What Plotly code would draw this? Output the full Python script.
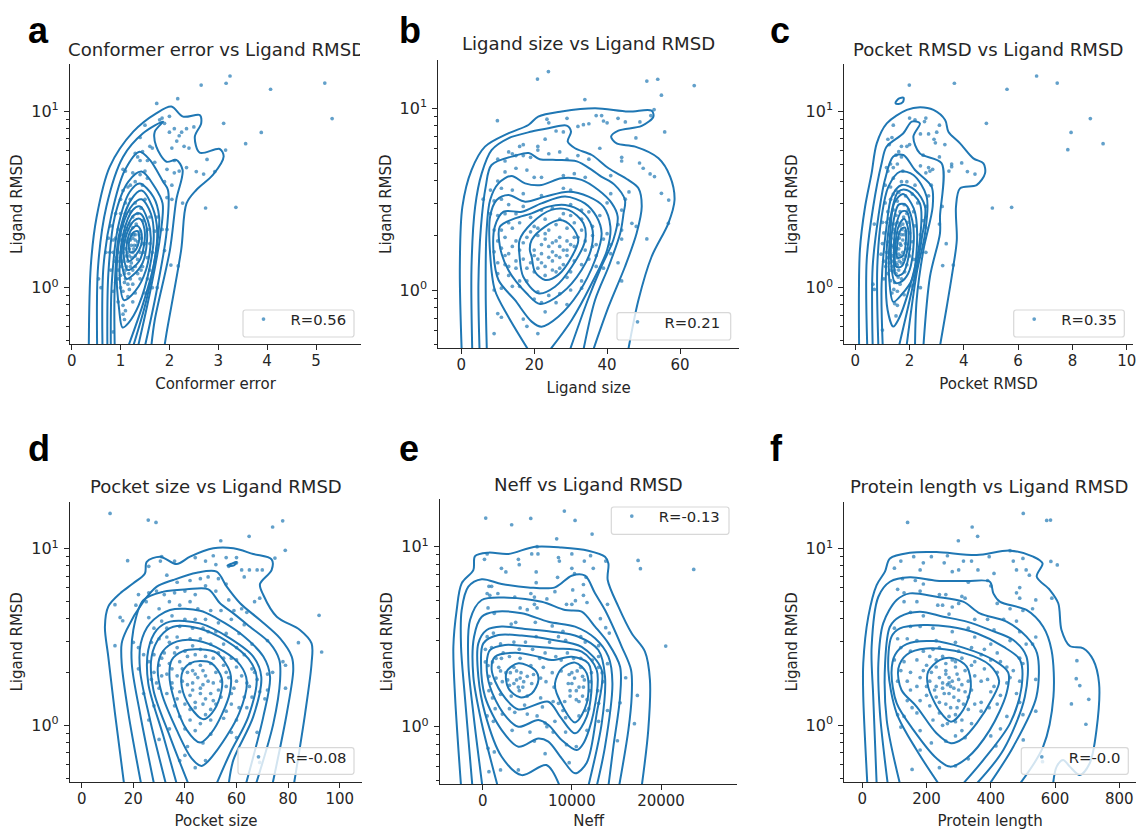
import plotly.graph_objects as go

W, H = 1136, 830
BLUE = "#1f77b4"
INK = "#262626"

# ---------- values: (x value, log10 of Ligand RMSD) ----------
A_POINTS = [(3.24,1.198),(2.65,1.147),(3.16,1.157),(5.18,1.158),(4.07,1.123),(2.17,1.07),(1.74,1.043),(5.33,.957),(3.11,.93),(3.88,.879),(3.56,.815),(3.15,.779),(2.77,.726),(2.55,.657),(2.70,.643),(2.93,.657),(2.27,.479),(2.74,.451),(3.36,.455),(2.03,.128),(2.18,.123),
(1.80,.95),(1.85,.96),(1.9,.93),(2.0,.97),(1.5,.92),(2.1,.9),(2.0,.88),(2.25,.88),(2.2,.86),(2.35,.9),(2.5,.91),(2.15,.83),(2.3,.8),(2.05,.79),(2.4,.79),(1.65,.79),(1.6,.8),(1.4,.85),(1.45,.77),(1.3,.76),(1.35,.74),(1.4,.72),(1.55,.72),(1.7,.71),(1.95,.67),(2.1,.72),(2.2,.66),(2.35,.68),(2.1,.65),(1.05,.67),(1.1,.66),(1.25,.65),(1.4,.64),(1.5,.66),(1.55,.62),(1.2,.58),(1.15,.57),(1.3,.6),(1.45,.58),(1.05,.55),(1.9,.6),(2.05,.58),(1.95,.51),(2.05,.5),
(1.0,.5),(1.1,.48),(1.2,.5),(1.3,.48),(1.5,.5),(.9,.42),(1.0,.42),(1.1,.42),(1.25,.4),(1.35,.42),(1.45,.38),(1.6,.4),(1.75,.4),(.8,.35),(.95,.33),(1.05,.35),(1.15,.33),(1.25,.34),(1.3,.3),(1.4,.32),(1.55,.33),(1.7,.32),(1.85,.33),(1.95,.33),(.75,.28),(.85,.27),(1.0,.27),(1.1,.26),(1.2,.27),(1.28,.24),(1.35,.26),(1.45,.25),(1.6,.25),(1.75,.22),(.7,.2),(.85,.2),(.95,.2),(1.05,.2),(1.15,.2),(1.25,.2),(1.3,.18),(1.4,.2),(1.55,.17),(1.9,.21),(1.05,.15),(1.15,.15),(1.2,.12),(1.1,.1),(1.3,.12),(1.45,.12),(1.6,.1),(.8,.1),(.95,.1),(1.1,.05),(1.2,.05),(1.25,.02),(1.4,.05),(.9,.03),(1.0,.0),(1.05,-.02),(.55,.05),(.6,.0),(.85,-.02),(1.15,-.05),(1.3,-.03),(1.65,0),(1.75,.0),(1.5,-.03),(.95,-.08),(1.05,-.1),(1.1,-.13),(1.25,-.08),(1.05,-.15),(1.08,-.18),(.85,-.25),
(1.27,.3),(1.3,.27),(1.25,.28),(1.33,.24),(1.27,.22),(1.22,.24),(1.18,.22),(1.23,.17),(1.18,.18),(1.12,.18),(1.1,.22),(1.35,.16),(1.22,.14),(1.12,.12),(1.17,.08),(1.25,.1),(1.08,.08),(1.02,.12),(.98,.15),(.92,.17),(1.0,.07),(1.08,.03),(1.15,.02),(1.18,-.01),(1.22,.3),(1.38,.3),(1.42,.28),(1.32,.36),(1.2,.36),(1.1,.3),(1.0,.3),(.9,.28),(.88,.15),(1.48,.2),(1.35,.08),(1.42,.1),(1.5,.25),(1.65,.2),(1.55,.05),(1.2,.43),(1.42,.45),(.95,.05),(.78,.2),(1.15,.27)]

A_CONTOURS = [
[(.35,-.33),(.39,.12),(.51,.40),(.78,.685),(1.26,.883),(1.73,.987),(2.04,1.025),(2.28,.968),(2.62,.977),(2.65,.93),(2.52,.855),(2.62,.764),(3.03,.785),(3.11,.742),(2.89,.638),(2.55,.553),(2.35,.477),(2.24,.213),(1.94,-.258),(1.90,-.33)],
[(.52,-.33),(.54,.12),(.71,.46),(1.05,.74),(1.46,.874),(1.87,.94),(1.70,.883),(1.73,.80),(1.94,.713),(2.14,.723),(2.27,.666),(2.14,.496),(2.01,.213),(1.70,-.183),(1.63,-.33)],
[(.63,-.33),(.65,.12),(.82,.42),(1.09,.666),(1.39,.77),(1.60,.723),(1.87,.60),(1.97,.553),(1.94,.31),(1.73,-.03),(1.50,-.33)],
[(.73,-.33),(.75,.08),(.88,.40),(1.16,.60),(1.43,.657),(1.70,.57),(1.86,.477),(1.80,.27),(1.60,-.03),(1.36,-.33)],
[(.80,-.33),(.82,.025),(.95,.345),(1.19,.543),(1.39,.59),(1.67,.515),(1.79,.40),(1.73,.213),(1.53,-.07),(1.26,-.33)],
[(.88,-.33),(.88,.0),(.97,.30),(1.22,.50),(1.43,.55),(1.66,.45),(1.75,.32),(1.68,.13),(1.45,-.10),(1.16,-.33)],
[(1.04,-.225),(.97,-.12),(.92,.10),(1.03,.34),(1.25,.47),(1.43,.50),(1.62,.42),(1.68,.30),(1.60,.12),(1.37,-.10),(1.16,-.2),(1.04,-.225)],
[(1.07,-.07),(.98,.08),(1.05,.30),(1.25,.44),(1.40,.46),(1.56,.38),(1.62,.28),(1.52,.10),(1.30,-.02),(1.07,-.07)],
[(1.12,.05),(1.02,.16),(1.08,.30),(1.27,.41),(1.40,.42),(1.52,.36),(1.54,.26),(1.45,.14),(1.25,.07),(1.12,.05)],
[(1.15,.10),(1.06,.20),(1.12,.30),(1.28,.38),(1.40,.39),(1.49,.33),(1.48,.24),(1.38,.15),(1.15,.10)],
[(1.17,.15),(1.12,.22),(1.20,.32),(1.33,.35),(1.42,.32),(1.42,.24),(1.30,.18),(1.17,.15)],
[(1.2,.2),(1.17,.25),(1.25,.31),(1.35,.32),(1.38,.27),(1.3,.21),(1.2,.2)],
]

B_POINTS = [(23.9,1.202),(20.9,1.161),(50.9,1.15),(53.9,1.16),(63.9,1.125),(54.9,1.072),(33.9,1.048),(52.9,.993),(9.9,.932),(55.8,.87),(47.9,.837),(48.9,.699),(49.9,.67),(51.8,.639),(53,.624),(54.9,.532),(56.9,.495),(56.8,.367),(50.9,.281),(46.8,.367),
(23.5,.94),(29,.945),(37,.96),(38.5,.96),(43,.945),(24,.92),(32,.90),(33.5,.91),(35,.915),(39,.93),(40,.92),(45,.925),(49,.925),(52,.96),(28,.87),(26,.875),(23,.83),(21,.79),(17,.80),(16,.79),(13,.76),(10,.72),(12,.71),(14,.75),(15,.74),(17,.74),(19,.73),(21,.77),(24,.75),(27,.76),(29,.72),(32,.74),(35,.72),(38,.78),(44,.73),(44,.71),(12,.65),(15,.67),(18,.66),(20,.62),(22,.62),(28,.63),(31,.64),(34,.62),(41,.63),(8,.55),(10,.60),(11,.56),(14,.55),(17,.53),(22,.52),(28,.56),(30,.55),(41,.53),(45,.50),(46,.54),
(6,.50),(9,.49),(11,.50),(13,.47),(17,.46),(22,.44),(25,.45),(30,.47),(35,.43),(40,.48),(44,.44),(8,.42),(10,.41),(12,.42),(15,.42),(19,.40),(23,.39),(28,.42),(33,.39),(38,.41),(43,.36),
(9,.33),(11,.33),(14,.34),(20,.35),(24,.33),(26,.36),(29,.34),(31,.37),(33,.33),(36,.35),(40,.31),(44,.33),(48,.35),(10,.27),(12,.29),(15,.27),(18,.29),(21,.3),(23,.28),(25,.26),(27,.29),(29,.27),(31,.29),(34,.27),(37,.25),(41,.25),(44,.28),
(9,.21),(11,.23),(13,.2),(16,.22),(20,.22),(22,.2),(25,.21),(28,.22),(31,.24),(34,.22),(37,.19),(41,.2),(10,.15),(12,.14),(15,.16),(19,.15),(22,.15),(25,.16),(28,.14),(31,.16),(35,.17),(43,.15),(10,.09),(13,.08),(16,.05),(20,.1),(23,.08),(26,.1),(29,.07),(33,.05),(39,.12),(44,.05),(9,.0),(11,.01),(16,.02),(21,-.01),(24,-.03),(27,-.02),(30,.0),(33,.01),(20,-.05),(22,-.07),(26,-.07),(29,-.08),(23,-.12),(10,-.13),(11,-.15),(17,-.16),(18,-.2),(21,-.24),(9,-.24),
(21,.34),(23,.31),(22,.25),(24,.24),(26,.27),(27,.24),(29,.22),(30,.25),(32,.29),(26,.19),(24,.18),(21,.17),(20,.19),(27,.18),(29,.19),(23,.13),(25,.11),(27,.12),(21,.12),(18,.12),(17,.17),(15,.12),(13,.13),(12,.19),(14,.24),(17,.26),(19,.32),(13,.37),(16,.37),(27,.39),(33,.44),(30,.41),(36,.3),(39,.28),(36,.24),(33,.14),(30,.1),(18,.05),(14,.02),(37,.13)]

B_CONTOURS = [
[(.1,-.33),(-.4,.128),(.3,.459),(2.8,.66),(6.5,.789),(12.9,.862),(18.4,.908),(21.1,.954),(27.5,.982),(36.7,1.0),(45.8,.982),(52.2,.987),(52.7,.954),(49.5,.903),(43.1,.877),(41.1,.844),(42.6,.807),(47.7,.789),(54.1,.725),(57.3,.624),(58.5,.495),(56.8,.367),(52.2,.183),(48.6,-.055),(45.8,-.33)],
[(3,-.33),(2.8,.128),(3.8,.459),(5.6,.642),(8.3,.77),(12.9,.835),(19.3,.872),(23.9,.89),(28.9,.905),(30.1,.872),(29.2,.817),(31.2,.78),(35.8,.743),(40.4,.67),(45.8,.606),(48.6,.56),(49.5,.459),(48.1,.312),(44.9,.128),(40.4,-.092),(36.2,-.33)],
[(5,-.33),(4.7,.037),(5.4,.35),(6.7,.569),(8.3,.688),(14.9,.74),(18.5,.754),(21.5,.72),(26,.716),(31.7,.708),(35.8,.661),(38.4,.624),(42,.58),(44.9,.495),(44.5,.42),(43.6,.312),(40.4,.128),(36.7,-.055),(33.5,-.33)],
[(7,-.33),(6.7,-.018),(6.9,.312),(7.9,.495),(10.2,.587),(13.8,.628),(17.5,.587),(22,.578),(27.5,.615),(33,.606),(37.6,.55),(41.3,.477),(42.9,.404),(41.7,.275),(38.4,.128),(34.7,-.055),(29.8,-.33)],
[(18.4,-.33),(12.9,-.147),(9.2,0),(7.9,.202),(7.9,.404),(9.7,.495),(12.9,.523),(17.5,.486),(23,.514),(29.4,.541),(34.9,.514),(39,.459),(40.9,.349),(40,.22),(35.8,.037),(30.3,-.165),(24.3,-.33)],
[(22,-.202),(19.3,-.174),(14.7,-.055),(10.2,.055),(8.8,.22),(9.2,.349),(11.6,.431),(16.6,.431),(22,.477),(28.5,.514),(33.9,.477),(37.1,.404),(38.5,.312),(36.7,.165),(32.1,-.018),(26.6,-.147),(22,-.202)],
[(21.6,-.077),(17.9,-.018),(12.9,.11),(10.6,.239),(10.6,.349),(14.7,.394),(19.3,.422),(23.9,.459),(28.5,.468),(33,.431),(35.8,.349),(35.8,.239),(33,.11),(27.5,-.018),(21.6,-.077)],
[(16,.183),(17,.073),(21.1,-.018),(25.7,.018),(30.3,.128),(34,.275),(33.5,.367),(29.4,.441),(24.7,.441),(19.3,.367),(16,.275),(16,.183)],
[(19.3,.183),(20.2,.101),(23,.055),(26.6,.083),(30.3,.183),(32.1,.275),(30.3,.349),(27.1,.385),(23,.349),(19.3,.275),(18.8,.22),(19.3,.183)],
]

C_POINTS = [(6.68,1.198),(3.65,1.157),(7.44,1.158),(5.59,1.123),(1.99,1.147),(8.66,.957),(4.83,.93),(7.95,.879),(9.13,.815),(7.83,.781),(5.05,.451),(5.76,.455),(3.35,.249),(3.22,.125),(3.61,.128),(4.41,.643),(4.13,.657),(3.92,.706),(3.55,.685),(3.45,.66),
(2.0,.96),(2.2,.95),(2.6,.96),(2.55,.94),(3.1,.92),(1.4,.92),(2.4,.87),(2.7,.87),(3.0,.88),(2.9,.84),(2.95,.82),(3.3,.81),(1.2,.84),(1.25,.81),(1.35,.85),(1.7,.8),(1.9,.8),(2.0,.81),(2.5,.75),(3.1,.74),(3.55,.7),(2.7,.68),(2.85,.67),(1.5,.75),(1.6,.77),(1.7,.74),(1.3,.7),(1.4,.68),(1.55,.7),(1.75,.66),(1.2,.66),(1.15,.68),(2.4,.69),(2.6,.65),(2.75,.66),(1.4,.62),(1.7,.6),(1.9,.6),(1.1,.58),(1.3,.57),(2.2,.58),(2.8,.58),(1.4,.53),(1.6,.54),(1.85,.52),(2.1,.53),(2.7,.52),
(1.1,.48),(1.3,.5),(1.55,.49),(1.8,.47),(2.3,.48),(2.6,.46),(3.2,.46),(1.2,.43),(1.4,.44),(1.65,.43),(1.9,.42),(2.15,.43),(2.5,.38),(3.1,.36),(1.0,.37),(1.15,.37),(1.35,.36),(1.55,.37),(1.75,.36),(1.95,.37),(2.2,.35),(2.6,.34),(.7,.36),(1.05,.31),(1.25,.3),(1.45,.31),(1.6,.31),(1.8,.3),(2.0,.31),(2.4,.3),(1.0,.25),(1.2,.26),(1.35,.24),(1.5,.26),(1.65,.25),(1.85,.25),(2.1,.26),(.95,.19),(1.15,.2),(1.3,.19),(1.45,.2),(1.6,.19),(1.75,.2),(2.0,.18),(2.6,.2),(1.05,.15),(1.25,.14),(1.4,.15),(1.55,.13),(1.7,.14),(1.9,.13),(1.4,.09),(1.5,.08),(1.6,.1),(1.2,.08),(.65,.02),(.7,-.01),(1.05,.05),(1.3,.04),(1.45,.03),(1.7,.05),(2.1,.01),(2.4,.0),(1.35,-.03),(1.55,-.02),(1.8,-.04),(1.45,-.09),(1.55,-.1),(1.5,-.16),(1.0,-.24),
(1.65,.35),(1.7,.3),(1.75,.27),(1.68,.24),(1.6,.22),(1.55,.28),(1.5,.22),(1.45,.27),(1.4,.23),(1.55,.17),(1.5,.14),(1.62,.15),(1.68,.18),(1.78,.16),(1.85,.18),(1.92,.22),(1.85,.32),(1.78,.4),(1.5,.41),(1.42,.33),(1.32,.28),(1.28,.21),(1.22,.17),(1.35,.12),(1.45,.1),(1.58,.06),(1.65,.02),(1.42,-.01),(1.3,.1),(1.12,.12),(2.0,.22),(2.15,.16),(1.82,.09),(1.95,.44),(1.5,.55),(1.25,.39),(1.48,.36),(1.72,.33),(1.62,.28),(1.38,.18)]

C_CONTOURS = [
[(.14,-.33),(.17,.213),(.36,.458),(.60,.647),(.79,.817),(1.16,.93),(1.9,1.006),(2.39,1.021),(2.88,1.006),(3.31,.949),(3.43,.883),(3.86,.817),(4.35,.732),(4.72,.704),(4.78,.647),(4.47,.581),(3.86,.562),(3.71,.458),(3.74,.27),(3.61,.119),(3.37,-.108),(3.12,-.33)],
[(.44,-.33),(.42,.157),(.66,.458),(.97,.704),(1.15,.798),(1.77,.874),(2.08,.94),(2.38,.93),(2.14,.855),(2.38,.76),(3.18,.704),(3.12,.402),(3.12,.308),(2.75,.062),(2.51,-.33)],
[(.64,-.33),(.64,.119),(.85,.402),(1.09,.609),(1.40,.742),(1.77,.751),(2.2,.666),(2.81,.572),(2.85,.458),(2.51,.213),(2.26,-.07),(2.2,-.33)],
[(.85,-.33),(.81,.119),(.97,.402),(1.22,.572),(1.65,.657),(2.14,.638),(2.63,.515),(2.57,.308),(2.26,.081),(1.89,-.33)],
[(1.01,-.33),(.97,.025),(1.15,.345),(1.34,.515),(1.71,.581),(2.2,.553),(2.57,.458),(2.44,.27),(2.14,.025),(1.61,-.33)],
[(1.4,-.22),(1.19,-.126),(1.13,.119),(1.28,.383),(1.58,.543),(1.89,.553),(2.38,.477),(2.38,.27),(2.01,.006),(1.58,-.183),(1.4,-.22)],
[(1.4,-.08),(1.25,.05),(1.28,.30),(1.44,.48),(1.76,.53),(2.15,.45),(2.28,.30),(2.1,.05),(1.7,-.04),(1.4,-.08)],
[(1.46,.03),(1.32,.15),(1.38,.35),(1.6,.47),(1.85,.47),(2.1,.38),(2.15,.25),(1.95,.08),(1.65,.03),(1.46,.03)],
[(1.5,.07),(1.42,.2),(1.5,.35),(1.7,.43),(1.9,.43),(2.03,.33),(1.97,.18),(1.75,.08),(1.5,.07)],
[(1.5,.12),(1.47,.22),(1.6,.35),(1.8,.39),(1.95,.33),(1.9,.2),(1.7,.12),(1.5,.12)],
[(1.55,.17),(1.55,.25),(1.68,.33),(1.83,.34),(1.87,.28),(1.75,.18),(1.55,.17)],
[(1.48,1.045),(1.6,1.07),(1.78,1.075),(1.75,1.05),(1.6,1.04),(1.48,1.045)],
]

D_POINTS = [(11,1.2),(25.8,1.162),(28.8,1.149),(77.9,1.158),(74,1.123),(64.9,1.07),(53.9,1.045),(78.9,.991),(74.9,.947),(17.8,.932),(92,.623),(93,.415),(84,.468),(12.9,.451),(12.9,.683),(14.9,.611),(15.9,.592),
(31,.955),(30.5,.93),(36,.93),(26,.9),(44,.95),(51,.96),(56,.95),(60,.95),(48,.93),(52,.91),(57,.9),(60,.92),(62,.88),(65,.88),(68,.88),(70,.88),(63,.84),(33,.85),(37,.81),(42,.82),(46,.83),(49,.84),(53,.83),(56,.8),(26,.75),(22,.74),(29,.76),(32,.74),(36,.75),(40,.76),(44,.74),(48,.79),(52,.76),(57,.71),(62,.66),(67,.7),(69,.72),(21,.68),(25,.7),(30,.66),(34,.7),(38,.68),(42,.7),(45,.66),(50,.65),(54,.65),(59,.65),(64,.64),
(26,.61),(31,.59),(35,.62),(40,.6),(44,.6),(48,.6),(53,.58),(58,.6),(63,.57),(28,.55),(33,.55),(38,.56),(43,.55),(47,.55),(52,.53),(56,.52),(61,.52),(20,.47),(22,.44),(27,.47),(30,.49),(34,.47),(37,.5),(42,.49),(46,.49),(50,.46),(55,.46),(60,.44),(66,.46),(72,.48),(24,.4),(28,.4),(32,.41),(36,.41),(40,.42),(44,.4),(48,.39),(53,.41),(58,.38),(63,.4),(26,.36),(30,.34),(34,.35),(38,.36),(42,.35),(46,.34),(50,.35),(55,.34),(60,.33),(66,.32),(78,.36),(79,.34),(22,.32),(28,.3),(33,.29),(37,.28),(41,.3),(44,.29),(48,.28),(52,.3),(57,.27),(62,.28),(68,.26),(72,.29),(74,.3),(29,.24),(35,.24),(39,.25),(43,.24),(47,.23),(51,.24),(56,.22),(60,.25),(65,.22),(72,.2),(79,.21),(24,.18),(33,.18),(38,.19),(42,.17),(46,.18),(50,.18),(54,.16),(58,.18),(66,.16),(71,.15),(28,.11),(36,.11),(40,.12),(44,.1),(47,.12),(52,.12),(56,.08),(64,.1),(26,.03),(38,.05),(42,.03),(46,.01),(50,.03),(55,.04),(60,.03),(34,-.02),(40,-.02),(44,-.03),(50,-.05),(58,-.04),(68,-.04),(30,-.08),(41,-.12),(47,-.1),(60,-.07),(40,-.17),(38,-.2),(48,-.2),(44,-.24),(69,-.21),
(43,.31),(45,.27),(47,.31),(49,.25),(46,.21),(43,.2),(41,.23),(48,.15),(51,.14),(53,.2),(50,.09),(48,.06),(44,.13),(42,.09),(37,.15),(35,.21),(31,.28),(30,.21),(27,.26),(56,.3),(54,.25),(59,.21),(63,.16),(61,.1),(58,.12),(64,.24),(67,.3),(69,.19),(39,.32),(35,.32),(31,.38),(37,.44),(41,.39),(46,.43),(51,.38),(55,.38),(60,.37),(33,.5),(43,.45),(49,.53)]

D_CONTOURS = [
[(16.4,-.33),(12.9,.068),(10.3,.389),(9,.558),(10.3,.672),(14.9,.747),(20,.804),(24.5,.86),(25.2,.926),(30.4,.955),(36.8,.913),(42,.955),(51,1.002),(58.8,1.002),(66.5,.97),(73.6,.94),(73.6,.879),(69.1,.8),(70.4,.738),(75.6,.615),(84.6,.54),(89.1,.464),(89.1,.351),(86.6,.068),(82.3,-.33)],
[(23,-.33),(18.1,.068),(15.5,.351),(15.5,.464),(17.4,.54),(23.9,.7),(29.1,.785),(35.5,.823),(44.6,.864),(52.3,.87),(56.2,.785),(61.4,.691),(69.1,.596),(76.9,.492),(81.4,.389),(82,.313),(79.5,.068),(74,-.33)],
[(28,-.33),(22.6,.068),(19.4,.351),(20,.54),(23.9,.709),(31.7,.757),(40.7,.77),(49.1,.77),(53.6,.691),(58.8,.634),(65.2,.558),(73,.464),(76.6,.37),(76.9,.257),(74.3,.011),(67.6,-.33)],
[(32.6,-.33),(26.5,.03),(22.6,.313),(22.9,.464),(26.5,.577),(34.2,.653),(45.9,.649),(52.3,.606),(61.4,.521),(70.4,.389),(73,.275),(70.4,.049),(63.7,-.33)],
[(36.8,-.33),(31.7,-.064),(25.8,.238),(25.8,.426),(29.1,.54),(34.2,.587),(45.9,.577),(57.5,.492),(66.5,.389),(69.6,.275),(66.5,.049),(58.8,-.196),(57,-.33)],
[(41.3,-.33),(34.2,-.064),(27.8,.2),(27.1,.389),(30.4,.502),(35.5,.558),(45.9,.547),(56.2,.477),(64.6,.377),(67.8,.275),(64.6,.049),(57.5,-.158),(52.3,-.33)],
[(46.5,-.23),(42.6,-.187),(36.8,-.026),(31,.181),(29.5,.33),(31.5,.42),(37,.475),(44.6,.48),(54.9,.42),(61.5,.34),(64,.25),(61,.068),(52.5,-.14),(46.5,-.23)],
[(45.9,-.098),(40.7,-.026),(35.5,.162),(34,.28),(34.9,.37),(39.3,.42),(45.9,.43),(52.3,.41),(57.5,.3),(57.5,.19),(54.3,.06),(50.4,-.04),(45.9,-.098)],
[(47.2,.034),(42,.106),(38.8,.219),(39.1,.304),(42,.351),(45.9,.364),(50.4,.351),(54.3,.266),(53.6,.162),(50.4,.068),(47.2,.034)],
[(56.5,.905),(58,.915),(60,.925),(59,.905),(56.5,.905)],
]

E_POINTS = [(340,1.159),(3250,1.122),(5390,1.157),(9160,1.198),(10360,1.146),(12270,1.07),(8300,1.044),(17430,.924),(17690,.878),(23670,.874),(20530,.448),(17350,.174),(17020,.017),(15110,-.078),(15410,.133),(16040,.272),
(6100,1.0),(5500,.96),(6200,.96),(200,.93),(500,.96),(4000,.93),(4100,.9),(8500,.94),(8600,.92),(10000,.96),(11400,.92),(12100,.95),(12400,.88),(13800,.92),(2100,.88),(2600,.86),(6000,.86),(8400,.83),(10000,.88),(10300,.85),(11600,.83),(6000,.8),(11300,.79),(700,.78),(1000,.78),(500,.74),(800,.73),(1700,.74),(3600,.72),(5400,.74),(5800,.72),(7200,.71),(8100,.75),(10100,.76),(11300,.73),(11700,.69),(10000,.68),(10400,.7),(9400,.68),(14000,.68),(600,.66),(1300,.63),(4200,.66),(5000,.65),(5800,.68),(6100,.66),(3200,.57),(3700,.58),(5900,.58),(7800,.56),(9000,.53),(11000,.5),(13200,.6),(13800,.55),(14200,.52),
(500,.5),(1200,.52),(2000,.46),(3500,.47),(4800,.47),(6000,.5),(7500,.47),(8500,.5),(9300,.48),(11500,.47),(13000,.45),(300,.43),(1000,.44),(2300,.41),(3000,.39),(4200,.38),(5600,.43),(7000,.41),(8200,.39),(9500,.41),(11000,.38),(12300,.37),(14000,.35),(13000,.33),(300,.36),(600,.34),(1100,.36),(1800,.33),(2600,.3),(3500,.33),(4300,.3),(5400,.34),(6800,.33),(7800,.3),(8800,.31),(10000,.3),(11200,.28),(12200,.3),(13400,.3),(1500,.27),(2200,.25),(3000,.23),(3800,.26),(4500,.22),(5500,.24),(7100,.25),(8000,.22),(9600,.24),(10500,.2),(11300,.22),(12000,.2),(13500,.25),(700,.2),(1100,.16),(2000,.18),(3200,.17),(4100,.2),(5000,.17),(6500,.16),(8500,.13),(9800,.17),(10800,.14),(11700,.15),(13000,.13),(14000,.09),(500,.06),(1200,.03),(2200,.07),(3600,.08),(4700,.12),(6100,.06),(7000,.02),(8100,.03),(9300,.05),(10800,.06),(11500,.09),(13000,.03),(3300,-.02),(5300,-.03),(7200,-.0),(7900,-.03),(9300,-.03),(11700,-.02),(600,-.12),(1300,-.14),(5800,-.08),(9400,-.1),(10500,-.11),(7000,-.15),(9700,-.2),(700,-.25),(2000,-.24),(4000,-.24),
(3800,.31),(4200,.27),(3500,.24),(4600,.25),(4000,.22),(5000,.28),(3100,.3),(2800,.26),(10000,.24),(10300,.27),(9800,.2),(10500,.15),(10800,.22),(11200,.17),(9700,.29),(10600,.31),(11000,.33),(9200,.14),(11400,.26),(12100,.25),(11900,.1),(5700,.29),(6500,.27),(2000,.31),(1500,.38),(2100,.38),(4100,.43),(6400,.38),(8800,.37),(10200,.38),(700,.28),(900,.24),(1400,.1),(3000,.1),(5000,.07),(9000,.09),(7900,.14),(6700,.11),(13000,.39),(12900,.2)]

E_CONTOURS = [
[(-2430,-.33),(-3100,.167),(-3290,.444),(-2920,.648),(-2360,.796),(-1050,.87),(-860,.948),(640,.967),(2880,.96),(5870,1.0),(8860,.996),(11850,.978),(13720,.944),(14100,.907),(14020,.815),(15220,.667),(16710,.519),(18200,.417),(18760,.259),(18570,-.019),(17840,-.33)],
[(-1160,-.33),(-2000,.167),(-2430,.444),(-2360,.648),(-1610,.778),(-110,.819),(2130,.793),(5120,.774),(8110,.774),(9980,.839),(11480,.839),(12600,.741),(13720,.648),(15600,.444),(16640,.315),(16710,.167),(16340,-.019),(15300,-.33)],
[(-40,-.33),(-1050,.074),(-1610,.352),(-1420,.593),(-110,.704),(2880,.717),(6620,.694),(9240,.648),(11100,.639),(12600,.556),(14100,.463),(15410,.333),(15410,.167),(14660,-.111),(14100,-.33)],
[(1680,-.33),(-110,.019),(-1050,.278),(-970,.5),(-110,.611),(1380,.639),(4380,.63),(7370,.583),(10360,.556),(12600,.491),(14100,.389),(14550,.241),(13720,-.111),(12790,-.33)],
[(8640,-.33),(7140,-.213),(4380,-.269),(2130,-.167),(260,.074),(-490,.278),(-490,.463),(450,.537),(2130,.556),(4750,.543),(7740,.528),(10730,.5),(12970,.426),(13720,.278),(13350,.019),(11850,-.33)],
[(10360,-.259),(8860,-.176),(7370,-.083),(6250,-.065),(4010,-.111),(2130,-.019),(260,.167),(-190,.352),(70,.463),(1760,.509),(4380,.506),(7740,.483),(11100,.444),(13350,.315),(12790,.074),(11670,-.2),(10360,-.259)],
[(10550,-.13),(8860,-.074),(7370,.009),(6250,.037),(4010,0),(2320,.074),(820,.222),(450,.352),(820,.426),(2500,.454),(4750,.448),(8110,.435),(11100,.417),(12790,.315),(12420,.074),(11290,-.093),(10550,-.13)],
[(10360,-.037),(8680,.056),(7370,.139),(4010,.096),(2130,.185),(1010,.315),(1380,.389),(3630,.411),(6250,.389),(7740,.37),(9990,.389),(11850,.352),(12230,.241),(11670,.056),(10360,-.037)],
[(8110,.241),(8300,.185),(10360,.024),(11670,.13),(11670,.296),(10360,.356),(8860,.324),(8110,.241)],
[(2690,.306),(4010,.352),(5870,.315),(6250,.259),(5500,.185),(4190,.163),(2880,.213),(2690,.306)],
]

F_POINTS = [(141,1.149),(501,1.2),(574,1.16),(586,1.162),(342,1.123),(359,1.07),(299,1.045),(460,.989),(587,.928),(607,.908),(668,.366),(666,.264),(677,.225),(705,.147),(651,.121),(696,.006),(561,-.206),(501,-.083),(416,-.117),
(120,.93),(160,.955),(215,.955),(265,.96),(340,.93),(395,.955),(470,.93),(500,.945),(190,.92),(255,.92),(315,.93),(480,.88),(510,.88),(100,.89),(180,.88),(280,.87),(300,.88),(360,.88),(410,.86),(490,.78),(520,.85),(125,.83),(165,.82),(190,.8),(330,.81),(390,.82),(400,.79),(480,.75),(110,.77),(130,.75),(180,.76),(240,.74),(260,.74),(310,.73),(320,.72),(490,.72),(540,.71),(590,.72),(130,.7),(170,.7),(235,.68),(250,.68),(280,.67),(300,.69),(420,.69),(460,.66),(500,.65),(530,.66),
(150,.64),(190,.62),(270,.63),(350,.6),(390,.6),(440,.6),(480,.59),(100,.55),(150,.56),(180,.56),(220,.55),(280,.53),(330,.55),(410,.54),(490,.53),(540,.5),(110,.49),(140,.49),(170,.48),(230,.48),(290,.47),(350,.5),(400,.46),(460,.48),(510,.46),(530,.46),(120,.44),(150,.42),(190,.42),(240,.44),(300,.42),(340,.44),(370,.4),(420,.41),(490,.38),(100,.37),(130,.36),(170,.37),(210,.39),(250,.39),(280,.37),(310,.38),(350,.36),(400,.37),(450,.33),(500,.35),(120,.31),(150,.3),(190,.31),(230,.33),(260,.31),(290,.33),(320,.31),(380,.32),(420,.3),(470,.31),(110,.25),(140,.25),(180,.27),(210,.25),(240,.27),(270,.24),(300,.26),(330,.25),(370,.25),(410,.22),(450,.24),(490,.25),(540,.26),(150,.2),(200,.22),(250,.21),(275,.22),(300,.2),(340,.2),(400,.19),(430,.17),(480,.18),(140,.14),(180,.14),(230,.16),(270,.18),(300,.14),(330,.16),(370,.13),(420,.12),(490,.13),(110,.06),(130,.05),(170,.07),(240,.07),(290,.06),(330,.09),(370,.08),(450,.05),(500,.06),(540,.08),(120,-.01),(180,-.03),(250,.0),(290,.02),(310,-.03),(340,.01),(430,-.02),(180,-.14),(215,-.1),(260,-.09),(290,-.06),(320,-.07),(400,-.06),(155,-.25),(240,-.24),(290,-.23),(330,-.19),
(260,.29),(270,.27),(280,.25),(265,.23),(285,.21),(250,.24),(295,.29),(310,.23),(255,.18),(285,.16),(240,.13),(260,.12),(275,.1),(295,.1),(315,.12),(225,.2),(215,.3),(230,.22),(320,.19),(350,.28),(390,.26),(340,.34),(290,.36),(260,.35),(230,.37),(200,.34),(170,.22),(200,.17),(210,.11),(350,.12),(395,.1),(270,.05),(265,.01),(310,.03),(220,.03),(155,.1),(430,.36),(460,.27),(380,.43),(220,.43)]

F_CONTOURS = [
[(15.6,-.33),(3,.162),(3,.351),(18.7,.615),(44.6,.794),(70.5,.87),(86,.945),(148,.977),(231,.981),(356,.964),(460,.989),(532,.955),(561,.917),(543,.842),(584,.766),(610,.691),(620,.54),(646,.449),(688,.436),(719,.37),(737,.238),(729,-.026),(708,-.215),(677,-.281),(646,-.234),(625,-.196),(605,-.234),(594,-.33)],
[(44.6,-.33),(34,.162),(29,.445),(50,.728),(86,.813),(148,.838),(231,.819),(325,.817),(397,.813),(408,.747),(428,.7),(511,.653),(563,.558),(589,.426),(595,.162),(563,-.121),(491,-.33)],
[(79,-.33),(55,.068),(50,.351),(65,.577),(107,.709),(148,.747),(231,.728),(314,.7),(366,.634),(449,.587),(511,.502),(544,.408),(542,.162),(470,-.121),(397,-.33)],
[(117,-.33),(76,.03),(71,.351),(86,.558),(117,.615),(179,.643),(252,.615),(325,.587),(397,.54),(470,.483),(511,.389),(506,.162),(439,-.14),(356,-.33)],
[(237,-.33),(169,-.14),(107,.068),(81,.313),(91,.502),(117,.549),(190,.568),(273,.558),(356,.521),(439,.445),(491,.37),(496,.219),(460,.011),(377,-.196),(314,-.33)],
[(273,-.234),(231,-.187),(159,-.026),(107,.125),(91,.3),(102,.4),(138,.46),(221,.477),(314,.44),(408,.37),(454,.3),(449,.181),(397,-.026),(325,-.187),(273,-.234)],
[(276,-.102),(231,-.045),(169,.106),(122,.2),(112,.32),(138,.40),(200,.435),(314,.41),(397,.34),(426,.25),(402,.143),(356,.011),(314,-.074),(276,-.102)],
[(276,.02),(242,.077),(205,.219),(205,.304),(242,.37),(284,.379),(325,.332),(338,.219),(314,.087),(276,.02)],
]

X_TICKS_A = [0, 1, 2, 3, 4, 5]
X_TICKS_B = [0, 20, 40, 60]
X_TICKS_C = [0, 2, 4, 6, 8, 10]
X_TICKS_D = [0, 20, 40, 60, 80, 100]
X_TICKS_E = [0, 10000, 20000]
X_TICKS_F = [0, 200, 400, 600, 800]
Y_MAJOR = [1, 10]
Y_MAJOR_TEXT = ["10<sup>0</sup>", "10<sup>1</sup>"]
Y_MINOR = [.5, .6, .7, .8, .9, 2, 3, 4, 5, 6, 7, 8, 9]

# ---------- panel layout (picture pixels): axes box, x calibration, y calibration, title, legend box ----------
PANELS = [
 dict(letter="a", lx=26, ly=30, title="Conformer error vs Ligand RMSD", tx=67, ty=49.5, clip=292,
      box=(70, 361, 64, 344.3), x0=(71.7, 0), x1=(316, 5), y1=287.7, y10=111,
      xlabel="Conformer error", ticks=X_TICKS_A, pts=A_POINTS, cts=A_CONTOURS, r="R=0.56", leg=(243, 354, 310, 337)),
 dict(letter="b", lx=397, ly=30, title="Ligand size vs Ligand RMSD", tx=588.5, ty=44,
      box=(438.3, 739, 60, 348.3), x0=(461.3, 0), x1=(680, 60), y1=290, y10=108.3,
      xlabel="Ligand size", ticks=X_TICKS_B, pts=B_POINTS, cts=B_CONTOURS, r="R=0.21", leg=(617, 730.7, 312.7, 340)),
 dict(letter="c", lx=767.7, ly=30, title="Pocket RMSD vs Ligand RMSD", tx=987.8, ty=49.5,
      box=(844.3, 1132.7, 64, 344.3), x0=(855.3, 0), x1=(1126.7, 10), y1=287.7, y10=111,
      xlabel="Pocket RMSD", ticks=X_TICKS_C, pts=C_POINTS, cts=C_CONTOURS, r="R=0.35", leg=(1013.7, 1124.3, 310, 337)),
 dict(letter="d", lx=26, ly=448, title="Pocket size vs Ligand RMSD", tx=215.7, ty=486.7,
      box=(70, 362, 501.7, 782), x0=(81.7, 0), x1=(339.7, 100), y1=725.3, y10=548.7,
      xlabel="Pocket size", ticks=X_TICKS_D, pts=D_POINTS, cts=D_CONTOURS, r="R=-0.08", leg=(238, 354, 747.7, 774.3)),
 dict(letter="e", lx=397, ly=448, title="Neff vs Ligand RMSD", tx=588, ty=484,
      box=(440, 737.3, 499.3, 784.3), x0=(482.7, 0), x1=(661, 20000), y1=726.7, y10=546.7,
      xlabel="Neff", ticks=X_TICKS_E, pts=E_POINTS, cts=E_CONTOURS, r="R=-0.13", leg=(611.3, 729, 507, 534.3)),
 dict(letter="f", lx=767.7, ly=448, title="Protein length vs Ligand RMSD", tx=989.3, ty=486.7,
      box=(844.3, 1136, 501.7, 782), x0=(862.3, 0), x1=(1119.3, 800), y1=725.3, y10=548.7,
      xlabel="Protein length", ticks=X_TICKS_F, pts=F_POINTS, cts=F_CONTOURS, r="R=-0.0", leg=(1021.3, 1128.3, 747.7, 774.3)),
]

FONT = "DejaVu Sans"
fig = go.Figure()
layout = dict(width=W, height=H, margin=dict(l=0, r=0, t=0, b=0, autoexpand=False), plot_bgcolor="white",
              paper_bgcolor="white", font=dict(family=FONT, size=14.8, color=INK), annotations=[], shapes=[],
              showlegend=True)


def rounded_box(x0, x1, y0, y1, rad=2.5):
    """SVG path in paper coordinates for a legend frame given in picture pixels."""
    fx = lambda v: "%.5f" % (v / W)
    fy = lambda v: "%.5f" % (1 - v / H)
    return (f"M{fx(x0 + rad)},{fy(y0)} L{fx(x1 - rad)},{fy(y0)} Q{fx(x1)},{fy(y0)} {fx(x1)},{fy(y0 + rad)} "
            f"L{fx(x1)},{fy(y1 - rad)} Q{fx(x1)},{fy(y1)} {fx(x1 - rad)},{fy(y1)} "
            f"L{fx(x0 + rad)},{fy(y1)} Q{fx(x0)},{fy(y1)} {fx(x0)},{fy(y1 - rad)} "
            f"L{fx(x0)},{fy(y0 + rad)} Q{fx(x0)},{fy(y0)} {fx(x0 + rad)},{fy(y0)} Z")


for i, p in enumerate(PANELS, start=1):
    s = "" if i == 1 else str(i)
    xa, ya = "x" + s, "y" + s
    l, r, t, b = p["box"]
    (px0, v0), (px1, v1) = p["x0"], p["x1"]
    per = (px1 - px0) / (v1 - v0)
    xrange = [v0 + (l - px0) / per, v0 + (r - px0) / per]
    dec = p["y1"] - p["y10"]
    yrange = [(p["y1"] - b) / dec, (p["y1"] - t) / dec]

    for c in p["cts"]:
        fig.add_trace(go.Scatter(x=[q[0] for q in c], y=[10 ** q[1] for q in c], mode="lines",
                                 xaxis=xa, yaxis=ya, showlegend=False, hoverinfo="skip",
                                 line=dict(color=BLUE, width=2, shape="spline", smoothing=0.9)))
    fig.add_trace(go.Scatter(x=[q[0] for q in p["pts"]], y=[10 ** q[1] for q in p["pts"]], mode="markers",
                             xaxis=xa, yaxis=ya, name=p["r"], legend="legend" + s,
                             marker=dict(color=BLUE, size=3.7, opacity=0.7)))

    layout["xaxis" + s] = dict(domain=[l / W, r / W], range=xrange, anchor=ya, showgrid=False, zeroline=False,
                               showline=True, linecolor=INK, linewidth=1.2, ticks="outside", ticklen=5, tickwidth=1.1,
                               tickcolor=INK, tickvals=p["ticks"], ticktext=[str(v) for v in p["ticks"]],
                               tickfont=dict(size=15), ticklabeloverflow="allow", ticklabelstandoff=-2,
                               title=dict(text=p["xlabel"], standoff=9, font=dict(size=15)))
    layout["yaxis" + s] = dict(domain=[1 - b / H, 1 - t / H], type="log", range=yrange, anchor=xa, showgrid=False,
                               zeroline=False, showline=True, linecolor=INK, linewidth=1.2, ticks="outside",
                               ticklen=5, tickwidth=1.1, tickcolor=INK, tickvals=Y_MAJOR, ticktext=Y_MAJOR_TEXT,
                               tickfont=dict(size=16), ticklabelstandoff=2,
                               minor=dict(tickvals=Y_MINOR, ticks="outside", ticklen=3, tickwidth=.8, tickcolor=INK),
                               title=dict(text="Ligand RMSD", standoff=4, font=dict(size=15)))
    lx0, lx1, ly0, ly1 = p["leg"]
    layout["shapes"].append(dict(type="path", xref="paper", yref="paper", layer="above",
                                 path=rounded_box(lx0, lx1, ly0, ly1),
                                 fillcolor="rgba(255,255,255,0.8)", line=dict(color="#d8d8d8", width=1.2)))
    layout["legend" + s] = dict(x=(lx0 - 6.5) / W, y=1 - (ly0 - 7) / H, xanchor="left", yanchor="top",
                                bgcolor="rgba(255,255,255,0)", borderwidth=0,
                                font=dict(size=14.8), itemsizing="trace", itemwidth=44, tracegroupgap=0)
    layout["annotations"].append(dict(text="<b>%s</b>" % p["letter"], xref="paper", yref="paper", x=p["lx"] / W,
                                      y=1 - p["ly"] / H, xanchor="left", yanchor="middle", showarrow=False,
                                      font=dict(family="Liberation Sans", size=36, color="black")))
    ann = dict(text=p["title"], xref="paper", yref="paper", x=p["tx"] / W, y=1 - p["ty"] / H, showarrow=False,
               yanchor="middle", font=dict(size=18.1, color=INK))
    if "clip" in p:
        ann.update(xanchor="left", width=p["clip"], align="left", borderpad=0)
    else:
        ann.update(xanchor="center")
    layout["annotations"].append(ann)

fig.update_layout(**layout)
fig.write_html("out.html", config={"displayModeBar": False}, post_script="document.body.style.margin='0';")
